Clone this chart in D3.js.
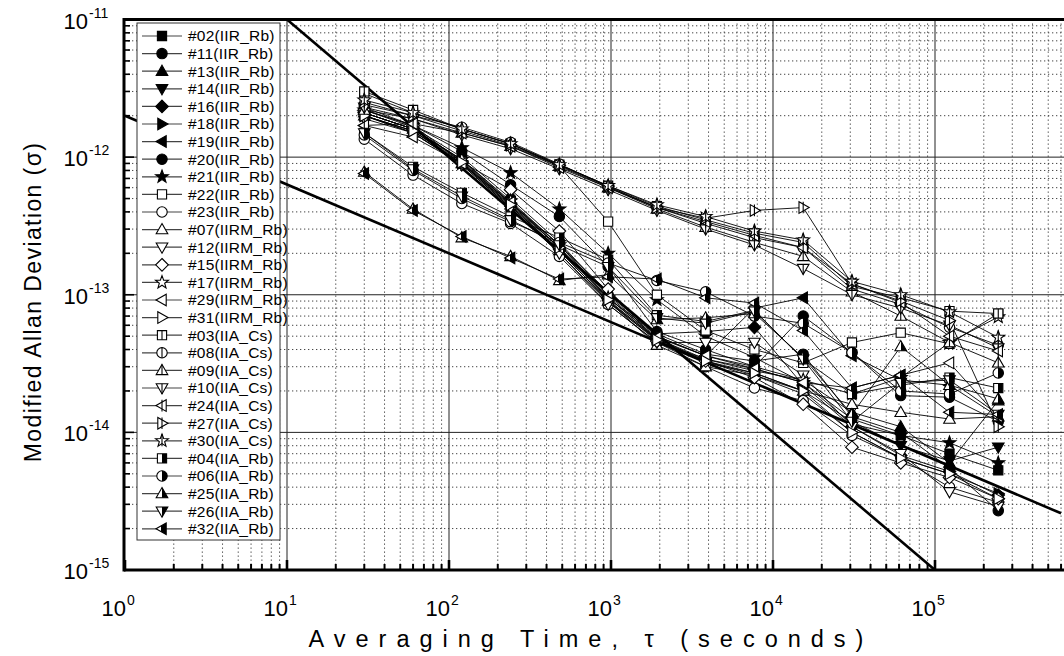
<!DOCTYPE html>
<html><head><meta charset="utf-8">
<script src="https://cdn.jsdelivr.net/npm/d3@7"></script>
<style>body{margin:0;background:#fff}svg{display:block;font-family:"Liberation Sans",Arial,sans-serif}</style>
</head><body><svg id="c" width="1064" height="656"></svg>
<script>
// ---- data ----
const taus = [30,60,120,240,480,960,1920,3840,7680,15360,30720,61440,122880,245760];
// IIR_Rb
const s02 = [2.0e-12,1.55e-12,9.0e-13,4.4e-13,2.1e-13,9.0e-14,4.6e-14,3.4e-14,2.9e-14,2.3e-14,1.15e-14,9.5e-15,7.0e-15,5.3e-15];
const s11 = [2.2e-12,1.65e-12,1.0e-12,5.0e-13,2.4e-13,1.0e-13,5.2e-14,3.7e-14,3.3e-14,3.7e-14,1.3e-14,1.0e-14,5.5e-15,2.7e-15];
const s13 = [2.1e-12,1.6e-12,9.6e-13,4.7e-13,2.3e-13,1.05e-13,5.0e-14,3.6e-14,3.0e-14,2.4e-14,1.4e-14,1.1e-14,6.0e-15,1.7e-14];
const s14 = [2.0e-12,1.5e-12,8.8e-13,4.3e-13,2.0e-13,8.8e-14,4.7e-14,3.2e-14,2.7e-14,2.0e-14,1.2e-14,8.0e-15,6.2e-15,7.8e-15];
const s16 = [2.1e-12,1.6e-12,9.3e-13,4.6e-13,2.2e-13,9.4e-14,5.2e-14,5.4e-14,5.8e-14,2.2e-14,1.1e-14,6.8e-15,5.2e-15,3.5e-15];
const s18 = [2.0e-12,1.55e-12,9.0e-13,4.4e-13,2.1e-13,9.0e-14,4.8e-14,3.3e-14,2.6e-14,1.9e-14,1.0e-14,6.5e-15,5.0e-15,3.6e-15];
const s19 = [2.1e-12,1.6e-12,9.5e-13,4.6e-13,2.3e-13,9.8e-14,5.0e-14,3.6e-14,8.0e-14,9.5e-14,3.6e-14,2.4e-14,2.2e-14,1.3e-14];
const s20 = [2.3e-12,1.7e-12,1.1e-12,6.3e-13,3.7e-13,1.6e-13,5.4e-14,4.0e-14,3.0e-14,7.0e-14,3.8e-14,1.85e-14,1.8e-14,1.2e-14];
const s21 = [2.2e-12,1.7e-12,1.17e-12,7.7e-13,4.2e-13,2.0e-13,9.2e-14,5.0e-14,3.5e-14,2.3e-14,1.25e-14,9.5e-15,8.4e-15,6.0e-15];
const s22 = [2.9e-12,2.1e-12,1.6e-12,1.25e-12,8.6e-13,3.4e-13,1.0e-13,5.5e-14,4.0e-14,3.2e-14,4.5e-14,5.3e-14,4.4e-14,7.3e-14];
const s23 = [1.35e-12,7.4e-13,4.6e-13,3.3e-13,1.9e-13,8.5e-14,4.5e-14,3.0e-14,2.1e-14,1.7e-14,9.5e-15,6.5e-15,4.0e-15,3.1e-15];
// IIRM_Rb
const s07 = [2.0e-12,1.5e-12,9.0e-13,4.5e-13,2.1e-13,9.0e-14,4.3e-14,3.0e-14,2.6e-14,2.0e-14,1.6e-14,1.4e-14,1.25e-14,1.3e-14];
const s12 = [1.9e-12,1.5e-12,8.8e-13,4.3e-13,2.0e-13,8.5e-14,4.5e-14,4.5e-14,4.5e-14,2.6e-14,1.1e-14,7.0e-15,3.7e-15,2.9e-15];
const s15 = [2.2e-12,1.7e-12,9.2e-13,5.8e-13,2.9e-13,1.1e-13,4.6e-14,3.3e-14,2.5e-14,1.6e-14,7.8e-15,6.0e-15,4.7e-15,3.3e-15];
const s17 = [2.1e-12,1.6e-12,9.6e-13,4.8e-13,2.3e-13,9.5e-14,4.8e-14,3.4e-14,2.8e-14,2.4e-14,1.9e-14,2.5e-14,4.5e-14,6.9e-14];
const s29 = [1.7e-12,1.4e-12,9.0e-13,4.7e-13,2.2e-13,9.5e-14,4.9e-14,3.6e-14,2.9e-14,2.3e-14,2.1e-14,2.6e-14,3.2e-14,1.3e-14];
const s31 = [2.0e-12,1.55e-12,9.2e-13,4.5e-13,2.2e-13,9.2e-14,4.7e-14,3.3e-14,2.7e-14,2.0e-14,1.0e-14,6.5e-15,5.0e-15,3.3e-15];
// IIA_Cs
const s03 = [3.0e-12,2.2e-12,1.6e-12,1.25e-12,8.8e-13,6.2e-13,4.4e-13,3.5e-13,2.8e-13,2.4e-13,1.15e-13,9.5e-14,7.6e-14,7.3e-14];
const s08 = [2.4e-12,2.0e-12,1.65e-12,1.28e-12,8.9e-13,6.1e-13,4.3e-13,3.3e-13,2.6e-13,2.2e-13,1.1e-13,8.5e-14,5.8e-14,4.3e-14];
const s09 = [2.2e-12,1.9e-12,1.5e-12,1.2e-12,8.6e-13,6.0e-13,4.2e-13,3.1e-13,2.4e-13,1.9e-13,1.05e-13,7.0e-14,4.5e-14,3.2e-14];
const s10 = [2.3e-12,1.9e-12,1.45e-12,1.15e-12,8.2e-13,5.8e-13,4.1e-13,3.0e-13,2.3e-13,1.55e-13,1.0e-13,8.0e-14,6.0e-14,4.1e-14];
const s24 = [1.7e-12,1.75e-12,1.5e-12,1.2e-12,8.4e-13,6.0e-13,4.3e-13,3.4e-13,2.7e-13,2.2e-13,1.2e-13,8.8e-14,5.0e-14,3.9e-14];
const s27 = [2.5e-12,2.0e-12,1.55e-12,1.22e-12,8.7e-13,6.1e-13,4.3e-13,3.6e-13,4.1e-13,4.3e-13,1.2e-13,9.0e-14,6.5e-14,1.1e-14];
const s30 = [2.6e-12,2.1e-12,1.6e-12,1.25e-12,8.8e-13,6.2e-13,4.5e-13,3.7e-13,2.9e-13,2.5e-13,1.25e-13,1.0e-13,7.5e-14,4.9e-14];
// IIA_Rb
const s04 = [1.5e-12,8.5e-13,5.5e-13,3.7e-13,2.6e-13,1.8e-13,7.1e-14,6.4e-14,7.7e-14,3.4e-14,1.9e-14,2.2e-14,2.5e-14,2.1e-14];
const s06 = [1.45e-12,8.0e-13,5.0e-13,3.4e-13,2.4e-13,1.7e-13,1.27e-13,1.05e-13,7.0e-14,6.2e-14,3.8e-14,2.0e-14,1.9e-14,2.7e-14];
const s25 = [7.8e-13,4.2e-13,2.6e-13,1.9e-13,1.27e-13,1.4e-13,6.6e-14,6.8e-14,7.3e-14,3.5e-14,1.35e-14,4.2e-14,2.2e-14,1.75e-14];
const s26 = [1.5e-12,8.2e-13,5.2e-13,3.5e-13,2.3e-13,1.6e-13,6.8e-14,6.2e-14,7.6e-14,3.4e-14,1.2e-14,2.3e-14,2.4e-14,1.35e-14];
const s32 = [7.6e-13,4.1e-13,2.65e-13,1.85e-13,1.3e-13,1.35e-13,1.3e-13,9.5e-14,8.7e-14,5.5e-14,2.1e-14,2.6e-14,1.4e-14,1.35e-14];

const labels = ["#02(IIR_Rb)","#11(IIR_Rb)","#13(IIR_Rb)","#14(IIR_Rb)","#16(IIR_Rb)","#18(IIR_Rb)","#19(IIR_Rb)","#20(IIR_Rb)","#21(IIR_Rb)","#22(IIR_Rb)","#23(IIR_Rb)",
  "#07(IIRM_Rb)","#12(IIRM_Rb)","#15(IIRM_Rb)","#17(IIRM_Rb)","#29(IIRM_Rb)","#31(IIRM_Rb)",
  "#03(IIA_Cs)","#08(IIA_Cs)","#09(IIA_Cs)","#10(IIA_Cs)","#24(IIA_Cs)","#27(IIA_Cs)","#30(IIA_Cs)",
  "#04(IIA_Rb)","#06(IIA_Rb)","#25(IIA_Rb)","#26(IIA_Rb)","#32(IIA_Rb)"];
const values = [s02,s11,s13,s14,s16,s18,s19,s20,s21,s22,s23,s07,s12,s15,s17,s29,s31,s03,s08,s09,s10,s24,s27,s30,s04,s06,s25,s26,s32];
// reference slopes (endpoints)
const refSteep = [[10,1e-11],[1e5,1e-15]];
const refFlat = [[1,2e-12],[6e5,2.582e-15]];
const yTicks = [1e-15,1e-14,1e-13,1e-12,1e-11];
const yExp = ["-15","-14","-13","-12","-11"];
const xTicks = [1,10,100,1000,1e4,1e5];
const xExp = ["0","1","2","3","4","5"];

// ---- styles (marker mapping) ----
const shapes = ["square","circle","up","down","diamond","right","left","circle","star","square","circle",
  "up","down","diamond","star","left","right",
  "square","circle","up","down","left","right","star",
  "square","circle","up","down","left"];
const fills = ["f","f","f","f","f","f","f","f","f","o","o",
  "o","o","o","o","o","o",
  "b","b","b","b","b","b","b",
  "h","h","h","h","h"];

// ---- drawing ----
const svg = d3.select("#c");
const X0 = 125, DX = 162;
const xMax = 6e5;
const x = d3.scaleLog().domain([1, xMax]).range([X0, X0 + DX*Math.log10(xMax)]);
const y = d3.scaleLog().domain([1e-15, 1e-11]).range([570, 19.5]);
const L = 124, R = 1064, T = 19.5, B = 570;

const defs = svg.append("defs");
const grad = defs.append("linearGradient").attr("id","half").attr("x1",0).attr("x2",1).attr("y1",0).attr("y2",0);
grad.append("stop").attr("offset","0.5").attr("stop-color","#fff");
grad.append("stop").attr("offset","0.5").attr("stop-color","#000");
defs.append("clipPath").attr("id","clip").append("rect").attr("x",L).attr("y",T).attr("width",R-L).attr("height",B-T);

// grid
const grid = svg.append("g");
for (let d = 0; d <= 5; d++) {
  for (let k = 1; k <= 9; k++) {
    const v = k*Math.pow(10,d);
    if (v > xMax || (d===0 && k===1)) continue;
    const px = x(v);
    grid.append("line").attr("x1",px).attr("x2",px).attr("y1",T).attr("y2",B)
      .attr("stroke", k===1 ? "#222" : "#444").attr("stroke-width",1)
      .attr("stroke-dasharray", k===1 ? null : "1.3,2.7");
  }
}
for (let e = -15; e <= -12; e++) {
  for (let k = 1; k <= 9; k++) {
    if (e===-15 && k===1) continue;
    const py = y(k*Math.pow(10,e));
    grid.append("line").attr("x1",L).attr("x2",R).attr("y1",py).attr("y2",py)
      .attr("stroke", k===1 ? "#222" : "#444").attr("stroke-width",1)
      .attr("stroke-dasharray", k===1 ? null : "1.3,2.7");
  }
}

// reference lines
const lineGen = d3.line().x(d=>x(d[0])).y(d=>y(d[1]));
const plot = svg.append("g").attr("clip-path","url(#clip)");
plot.append("path").attr("d",lineGen(refSteep)).attr("stroke","#000").attr("stroke-width",2.6).attr("fill","none");
plot.append("path").attr("d",lineGen(refFlat)).attr("stroke","#000").attr("stroke-width",2.6).attr("fill","none");

// series lines
const sl = d3.line().x((d,i)=>x(taus[i])).y(d=>y(d));
values.forEach(vs => {
  plot.append("path").attr("d", sl(vs)).attr("fill","none").attr("stroke","#000").attr("stroke-width",0.9);
});

function starPath(ro, ri) {
  let p = "";
  for (let i = 0; i < 10; i++) {
    const a = -Math.PI/2 + i*Math.PI/5;
    const r = i%2===0 ? ro : ri;
    p += (i===0?"M":"L") + (r*Math.cos(a)).toFixed(2) + "," + (r*Math.sin(a)).toFixed(2);
  }
  return p + "Z";
}
const shapePath = {
  square: "M-4.6,-4.6H4.6V4.6H-4.6Z",
  circle: "M5.2,0A5.2,5.2 0 1,1 -5.2,0A5.2,5.2 0 1,1 5.2,0Z",
  up: "M0,-6L5.8,4.2L-5.8,4.2Z",
  down: "M0,6L5.8,-4.2L-5.8,-4.2Z",
  right: "M6,0L-4.2,-5.8L-4.2,5.8Z",
  left: "M-6,0L4.2,-5.8L4.2,5.8Z",
  diamond: "M0,-6.3L6.3,0L0,6.3L-6.3,0Z",
  star: starPath(6.8, 2.8)
};
const barExt = {square:[-4.6,4.6], circle:[-5.2,5.2], up:[-6,4.2], down:[-4.2,6], right:[-5.8,5.8], left:[-5.8,5.8], diamond:[-6.3,6.3], star:[-6.8,5.5]};

function marker(g, cx, cy, shape, f) {
  const m = g.append("g").attr("transform",`translate(${cx},${cy})`);
  m.append("path").attr("d", shapePath[shape])
    .attr("fill", f==="f" ? "#000" : f==="h" ? "url(#half)" : "#fff")
    .attr("stroke","#000").attr("stroke-width",1.1).attr("stroke-linejoin","miter");
  if (f === "b") {
    const e = barExt[shape];
    m.append("line").attr("x1",0).attr("x2",0).attr("y1",e[0]).attr("y2",e[1]).attr("stroke","#000").attr("stroke-width",1.1);
  }
}

const mk = svg.append("g");
values.forEach((vs, si) => {
  vs.forEach((v, i) => marker(mk, x(taus[i]), y(v), shapes[si], fills[si]));
});

// axes frame
svg.append("line").attr("x1",L).attr("x2",R).attr("y1",T).attr("y2",T).attr("stroke","#000").attr("stroke-width",3);
svg.append("line").attr("x1",L).attr("x2",R).attr("y1",B).attr("y2",B).attr("stroke","#000").attr("stroke-width",3);
svg.append("line").attr("x1",L).attr("x2",L).attr("y1",T-1.5).attr("y2",B+1.5).attr("stroke","#000").attr("stroke-width",3);

// ticks
const tk = svg.append("g");
for (let e = -15; e <= -12; e++) {
  for (let k = 1; k <= 9; k++) {
    const py = y(k*Math.pow(10,e));
    tk.append("line").attr("x1",L).attr("x2",L + (k===1?10:6)).attr("y1",py).attr("y2",py).attr("stroke","#000").attr("stroke-width",1.6);
  }
}
for (let d = 0; d <= 5; d++) {
  for (let k = 1; k <= 9; k++) {
    const v = k*Math.pow(10,d);
    if (v > xMax) continue;
    const px = x(v);
    tk.append("line").attr("x1",px).attr("x2",px).attr("y1",B).attr("y2",B - (k===1?10:6)).attr("stroke","#000").attr("stroke-width",k===1?2.6:2);
  }
}

// tick labels
const lab = svg.append("g").attr("fill","#000");
yTicks.forEach((v,i) => {
  lab.append("text").attr("x",88).attr("y",y(v)+9).attr("text-anchor","end").attr("font-size",22).text("10");
  lab.append("text").attr("x",89).attr("y",y(v)-2).attr("text-anchor","start").attr("font-size",14).text(yExp[i]);
});
xTicks.forEach((v,i) => {
  lab.append("text").attr("x",x(v)+1).attr("y",616).attr("text-anchor","end").attr("font-size",22).text("10");
  lab.append("text").attr("x",x(v)+2).attr("y",605).attr("text-anchor","start").attr("font-size",14).text(xExp[i]);
});

// axis titles
svg.append("text").attr("x",591).attr("y",647).attr("text-anchor","middle").attr("font-size",23.5)
  .attr("letter-spacing",10).text("Averaging Time, τ (seconds)");
svg.append("text").attr("transform","translate(41,302) rotate(-90)").attr("text-anchor","middle").attr("font-size",23)
  .attr("letter-spacing",1.4).text("Modified Allan Deviation (σ)");

// legend
const lg = svg.append("g");
const LX = 137, LY = 23, LW = 143, LH = 517;
lg.append("rect").attr("x",LX).attr("y",LY).attr("width",LW).attr("height",LH).attr("fill","#fff").attr("stroke","#333").attr("stroke-width",1);
labels.forEach((name, i) => {
  const ly = 36 + i*17.6;
  lg.append("line").attr("x1",142).attr("x2",182).attr("y1",ly).attr("y2",ly).attr("stroke","#444").attr("stroke-width",1.2);
  marker(lg, 162, ly, shapes[i], fills[i]);
  lg.append("text").attr("x",188).attr("y",ly+5.4).attr("font-size",15.5).attr("letter-spacing",0.2).text(name);
});
</script></body></html>
